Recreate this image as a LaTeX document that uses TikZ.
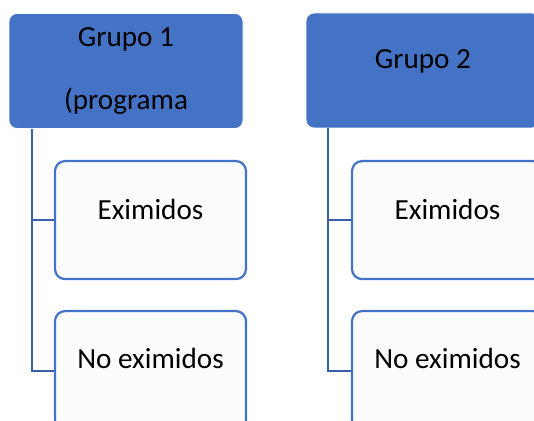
\documentclass[tikz,border=0pt]{standalone}
\usepackage{fontspec}
\setmainfont{Carlito}
\usetikzlibrary{calc}
\definecolor{grpblue}{HTML}{4472C4}
\definecolor{linkblue}{HTML}{3A5FA8}
\definecolor{boxfill}{HTML}{FCFCFC}

\begin{document}
\begin{tikzpicture}[x=0.5pt,y=-0.5pt,
    font=\fontsize{14.6}{17.5}\selectfont,
    grupo/.style={draw=white,fill=grpblue,rounded corners=4pt,minimum width=117pt,minimum height=57.5pt,inner sep=0pt,align=center},
    hoja/.style={draw=grpblue,line width=1.1pt,fill=boxfill,rounded corners=5pt,minimum width=95.5pt,inner ysep=0pt,anchor=north},
    enlace/.style={draw=linkblue,line width=1.1pt}]
  \clip (0,0) rectangle (534,421);

  % Grupo 1
  \node[grupo] (g1) at (126,71) {Grupo 1\\[14pt](programa};
  \node[hoja,text height=29pt,text depth=30pt] (g1ex) at (150.5,160) {Eximidos};
  \node[hoja,text height=28.5pt,text depth=31pt] (g1noex) at (150.5,310) {No eximidos};

  % Grupo 2
  \node[grupo,text height=28pt,text depth=29.5pt] (g2) at (423,70.5) {Grupo 2};
  \node[hoja,text height=29pt,text depth=30pt] (g2ex) at (447.5,160) {Eximidos};
  \node[hoja,text height=28.5pt,text depth=31pt] (g2noex) at (447.5,310) {No eximidos};

  % Enlaces
  \draw[enlace] ($(g1.south west)+(23,0)$) |- (g1ex.west);
  \draw[enlace] ($(g1.south west)+(23,0)$) |- (g1noex.west);
  \draw[enlace] ($(g2.south west)+(22,0)$) |- (g2ex.west);
  \draw[enlace] ($(g2.south west)+(22,0)$) |- (g2noex.west);
\end{tikzpicture}
\end{document}
